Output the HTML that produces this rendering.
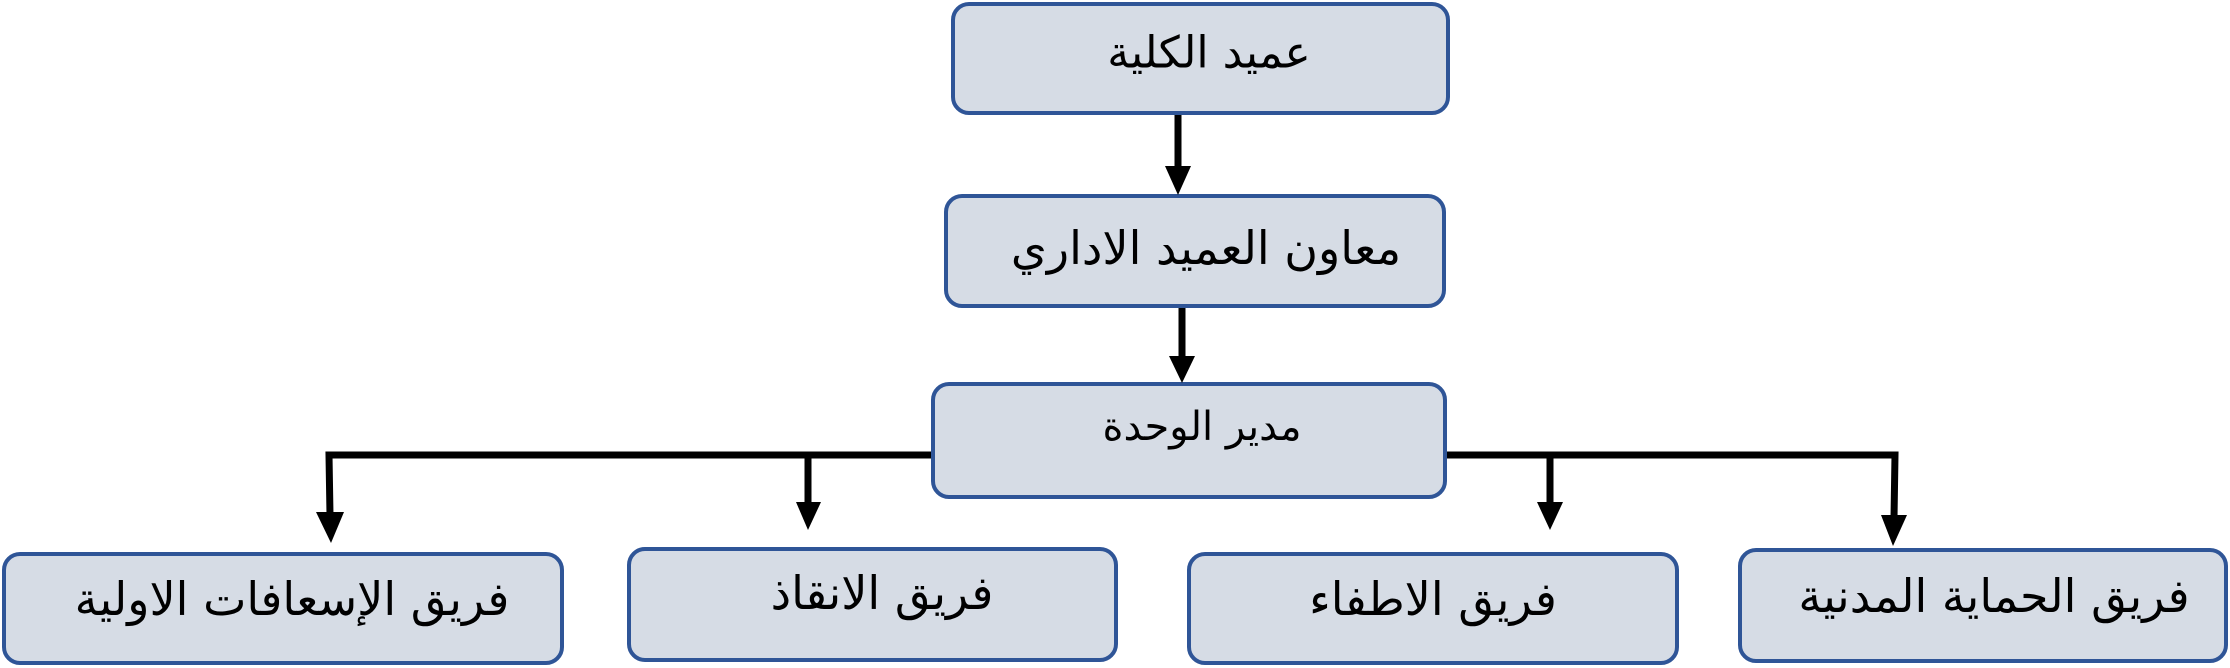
<!DOCTYPE html>
<html><head><meta charset="utf-8"><style>
body{margin:0;width:2230px;height:668px;background:#fff;position:relative;overflow:hidden}
.b{position:absolute;box-sizing:border-box;background:#d6dce5;border:4px solid #2f5597;border-radius:18px}
.t{position:absolute;transform:translate(-50%,-50%);white-space:nowrap;font-family:"DejaVu Sans",sans-serif;font-size:46px;color:#000;direction:rtl}
</style></head><body>
<div class="b" style="left:951px;top:2px;width:499px;height:113px"></div>
<div class="b" style="left:944px;top:194px;width:502px;height:114px"></div>
<div class="b" style="left:931px;top:382px;width:516px;height:117px"></div>
<div class="b" style="left:2px;top:552px;width:562px;height:113px"></div>
<div class="b" style="left:627px;top:547px;width:491px;height:115px"></div>
<div class="b" style="left:1187px;top:552px;width:492px;height:113px"></div>
<div class="b" style="left:1738px;top:548px;width:490px;height:115px"></div>
<svg width="2230" height="668" style="position:absolute;left:0;top:0">
<g stroke="#000" stroke-width="7" fill="none">
<line x1="1178" y1="115" x2="1178" y2="170"/>
<line x1="1182" y1="308" x2="1182" y2="358"/>
<polyline points="931,455 329,455 330,515"/>
<line x1="808" y1="455" x2="808" y2="505"/>
<polyline points="1447,455 1895,455 1894,518"/>
<line x1="1550" y1="455" x2="1550" y2="505"/>
</g>
<g fill="#000">
<polygon points="1165,166 1191,166 1178,195"/>
<polygon points="1169,356 1195,356 1182,383"/>
<polygon points="316,512 344,512 331,543"/>
<polygon points="796,502 821,502 808,530"/>
<polygon points="1881,515 1907,515 1893,546"/>
<polygon points="1537,502 1563,502 1550,530"/>
</g>
</svg>
<div class="t" style="left:1209px;top:53px;font-size:44px">عميد الكلية</div>
<div class="t" style="left:1206px;top:248px">معاون العميد الاداري</div>
<div class="t" style="left:1202px;top:427px;font-size:40px">مدير الوحدة</div>
<div class="t" style="left:292px;top:599px">فريق الإسعافات الاولية</div>
<div class="t" style="left:882px;top:593px">فريق الانقاذ</div>
<div class="t" style="left:1433px;top:599px">فريق الاطفاء</div>
<div class="t" style="left:1994px;top:596px">فريق الحماية المدنية</div>
</body></html>
